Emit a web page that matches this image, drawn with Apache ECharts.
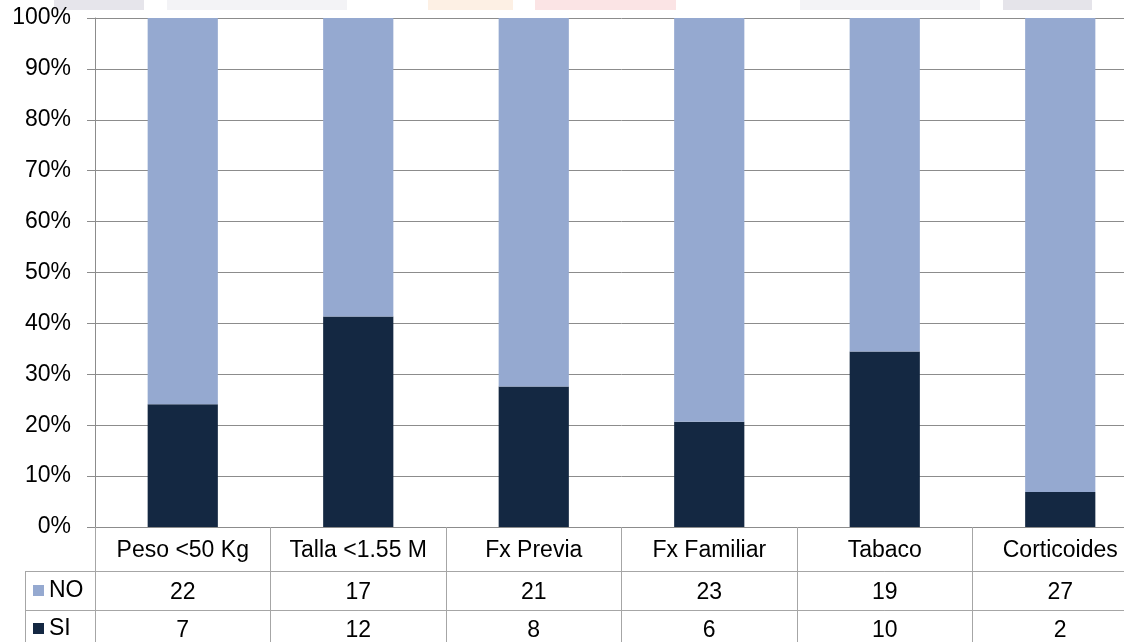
<!DOCTYPE html>
<html>
<head>
<meta charset="utf-8">
<script src="https://cdn.jsdelivr.net/npm/echarts@6/dist/echarts.min.js"></script>
<style>
html,body{margin:0;padding:0;background:#fff;overflow:hidden;width:1124px;height:642px;}
#c{width:1148px;height:642px;}
</style>
</head>
<body>
<div id="c"></div>
<script>
var categories = ['Peso <50 Kg', 'Talla <1.55 M', 'Fx Previa', 'Fx Familiar', 'Tabaco', 'Corticoides'];
var noValues = [22, 17, 21, 23, 19, 27];
var siValues = [7, 12, 8, 6, 10, 2];
var seriesNames = ['NO', 'SI'];

var TOTAL = noValues[0] + siValues[0]; // every category sums to 29
var FONT = 'Liberation Sans, Arial, sans-serif';
var FS = 23;
var tableLine = '#a6a6a6';

var chart = echarts.init(document.getElementById('c'));
chart.setOption({
  animation: false,
  backgroundColor: '#ffffff',
  textStyle: { fontFamily: FONT },
  graphic: [
    { type: 'rect', shape: { x: 54, y: 0, width: 90, height: 10 }, style: { fill: '#e6e5eb' }, silent: true, z: -1 },
    { type: 'rect', shape: { x: 167, y: 0, width: 180, height: 10 }, style: { fill: '#f3f3f6' }, silent: true, z: -1 },
    { type: 'rect', shape: { x: 428, y: 0, width: 85, height: 10 }, style: { fill: '#fdf0e4' }, silent: true, z: -1 },
    { type: 'rect', shape: { x: 535, y: 0, width: 141, height: 10 }, style: { fill: '#fbe4e5' }, silent: true, z: -1 },
    { type: 'rect', shape: { x: 800, y: 0, width: 180, height: 10 }, style: { fill: '#f3f3f6' }, silent: true, z: -1 },
    { type: 'rect', shape: { x: 1003, y: 0, width: 89, height: 10 }, style: { fill: '#e5e4ea' }, silent: true, z: -1 },
    { type: 'line', shape: { x1: 25, y1: 571.5, x2: 95, y2: 571.5 }, style: { stroke: tableLine, lineWidth: 1 }, silent: true },
    { type: 'line', shape: { x1: 25, y1: 610.5, x2: 95, y2: 610.5 }, style: { stroke: tableLine, lineWidth: 1 }, silent: true },
    { type: 'line', shape: { x1: 25.5, y1: 571, x2: 25.5, y2: 642 }, style: { stroke: tableLine, lineWidth: 1 }, silent: true }
  ],
  legend: {
    data: seriesNames,
    orient: 'vertical',
    left: 33,
    top: 579,
    padding: 0,
    itemWidth: 11,
    itemHeight: 11,
    itemGap: 15,
    icon: 'rect',
    textStyle: { fontSize: FS, color: '#000', fontFamily: FONT }
  },
  grid: { left: 95, top: 18, right: 0, height: 509, containLabel: false },
  xAxis: [
    {
      type: 'category',
      data: categories,
      position: 'bottom',
      axisLine: { show: true, lineStyle: { color: '#8c8c8c', width: 1 } },
      axisTick: { show: true, interval: 0, length: 125, lineStyle: { color: tableLine } },
      axisLabel: { interval: 0, fontSize: FS, color: '#000', margin: 12, fontFamily: FONT },
      splitLine: { show: false }
    },
    {
      type: 'category',
      data: noValues,
      position: 'bottom',
      offset: 44,
      axisLine: { show: true, lineStyle: { color: tableLine, width: 1 } },
      axisTick: { show: false },
      axisLabel: { interval: 0, fontSize: FS, color: '#000', margin: 10, fontFamily: FONT }
    },
    {
      type: 'category',
      data: siValues,
      position: 'bottom',
      offset: 83,
      axisLine: { show: true, lineStyle: { color: tableLine, width: 1 } },
      axisTick: { show: false },
      axisLabel: { interval: 0, fontSize: FS, color: '#000', margin: 9, fontFamily: FONT }
    }
  ],
  yAxis: {
    type: 'value',
    min: 0,
    max: TOTAL,
    interval: TOTAL / 10,
    axisLine: { show: true, lineStyle: { color: '#8c8c8c' } },
    axisTick: { show: true, length: 8, lineStyle: { color: '#8c8c8c' } },
    splitLine: { show: true, lineStyle: { color: '#8c8c8c', width: 1 } },
    axisLabel: {
      fontSize: FS, color: '#000', margin: 24, fontFamily: FONT,
      formatter: function (v) { return Math.round(v / TOTAL * 100) + '%'; }
    }
  },
  series: [
    {
      name: 'SI',
      type: 'bar',
      stack: 'total',
      barWidth: '40%',
      xAxisIndex: 0,
      data: siValues,
      itemStyle: { color: '#142842' }
    },
    {
      name: 'NO',
      type: 'bar',
      stack: 'total',
      barWidth: '40%',
      xAxisIndex: 0,
      data: noValues,
      itemStyle: { color: '#95a9d0' }
    }
  ],
  color: ['#142842', '#95a9d0']
});
</script>
</body>
</html>
